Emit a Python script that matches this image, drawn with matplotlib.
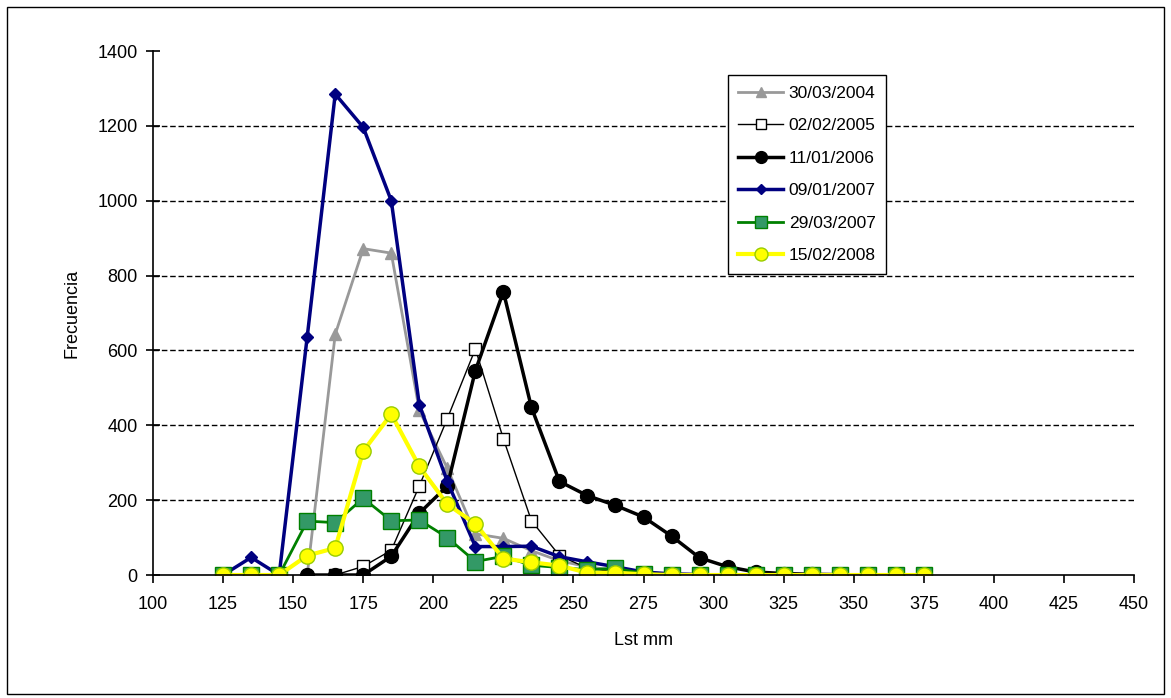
import numpy as np
import matplotlib
matplotlib.use('agg')
import matplotlib.pyplot as plt
from matplotlib.patches import Rectangle

plt.rcParams['font.family'] = ['Liberation Sans', 'DejaVu Sans']

nan = np.nan
lst = list(range(125, 385, 10))

# frequencies per 10 mm bin (NaN = not sampled)
f2004 = [nan, nan, nan, 0, 643, 872, 860, 440, 285, 110, 98, 65, 38, 22, 12, 6, 3, 2, 1, 0, 0, 0, 0, 0, 0, 0]
f2005 = [nan, nan, nan, nan, 0, 23, 66, 238, 418, 604, 364, 145, 52, 18, 8, 4, 2, 1, 0, 0, 0, 0, 0, 0, 0, 0]
f2006 = [nan, nan, nan, 0, 0, 0, 50, 165, 238, 546, 757, 448, 250, 212, 186, 155, 104, 46, 22, 8, 4, 2, 1, 0, 0, 0]
f2007a = [0, 47, 0, 636, 1285, 1196, 1000, 455, 250, 76, 76, 77, 49, 35, 22, 8, 3, 1, 0, 0, 0, 0, 0, 0, 0, 0]
f2007b = [0, 0, 0, 144, 140, 205, 145, 147, 100, 36, 50, 26, 20, 14, 18, 4, 0, 0, 0, 0, 0, 0, 0, 0, 0, 0]
f2008 = [0, 0, 0, 52, 72, 331, 430, 290, 189, 137, 44, 34, 25, 6, 6, 2, 0, 0, 0, 0, 0, 0, 0, 0, 0, 0]

fig = plt.figure(figsize=(11.71, 6.98), dpi=100)
ax = fig.add_axes([0.1307, 0.1762, 0.8377, 0.7507])

ax.plot(lst, f2004, color='#999999', lw=2, marker='^', ms=8, mfc='#999999', mec='#999999', label='30/03/2004')
ax.plot(lst, f2005, color='black', lw=1, marker='s', ms=9, mfc='white', mec='black', label='02/02/2005')
ax.plot(lst, f2006, color='black', lw=2.5, marker='o', ms=10, mfc='black', mec='black', label='11/01/2006')
ax.plot(lst, f2007a, color='#000080', lw=2.5, marker='D', ms=6, mfc='#000080', mec='#000080', label='09/01/2007')
ax.plot(lst, f2007b, color='#008000', lw=2, marker='s', ms=11, mfc='#339966', mec='#008000', label='29/03/2007')
ax.plot(lst, f2008, color='#FFFF00', lw=3, marker='o', ms=11, mfc='#FFFF00', mec='#99CC00', label='15/02/2008')

ax.set_xlim(100, 450)
ax.set_ylim(0, 1400)
ax.set_xticks(range(100, 475, 25))
ax.set_yticks(range(0, 1600, 200))
for y in range(200, 1400, 200):
    ax.axhline(y, color='black', lw=1, ls=(0, (4, 2)), zorder=0)

for s in ['top', 'right']:
    ax.spines[s].set_visible(False)
ax.spines['left'].set_linewidth(1.2)
ax.spines['bottom'].set_linewidth(1.2)
ax.tick_params(axis='y', direction='inout', length=10, width=1.2, labelsize=13, pad=6)
ax.tick_params(axis='x', direction='out', length=6, width=1.2, labelsize=13, pad=9)

ax.set_xlabel('Lst mm', fontsize=13, labelpad=14)
ax.set_ylabel('Frecuencia', fontsize=13, labelpad=12)

leg = ax.legend(loc='upper left', bbox_to_anchor=(0.586, 0.954), borderaxespad=0,
                fontsize=12.5, frameon=True, fancybox=False, edgecolor='black', framealpha=1,
                handlelength=2.6, handletextpad=0.3, labelspacing=1.0, borderpad=0.6,
                markerscale=0.85)
leg.get_frame().set_linewidth(1)

fig.patches.append(Rectangle((0.006, 0.006), 0.988, 0.984, transform=fig.transFigure,
                             fill=False, edgecolor='black', lw=1))

fig.savefig('out.png', dpi=100)
